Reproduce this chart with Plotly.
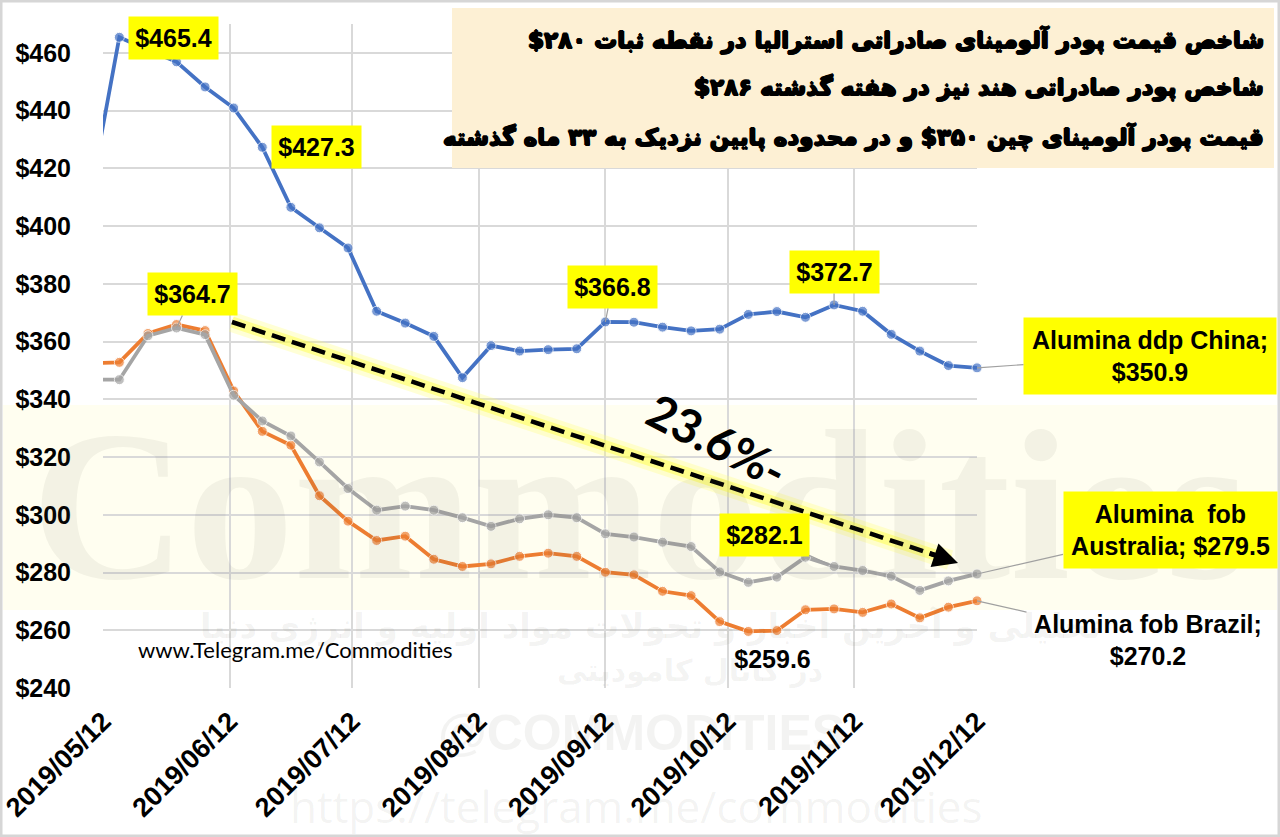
import pandas as pd
import plotly.graph_objects as go

# weekly assessments (Thursdays), first one sits just left of the axis start
dates = pd.date_range('2019-05-09', periods=32, freq='7D')

china = [411.7, 465.4, 461.0, 456.9, 448.2, 440.9, 427.3, 406.5, 399.4, 392.4,
         370.5, 366.4, 361.8, 347.5, 358.6, 356.7, 357.2, 357.5, 366.8, 366.7,
         365.0, 363.7, 364.3, 369.4, 370.4, 368.4, 372.7, 370.5, 362.5, 356.7,
         351.7, 350.9]
australia = [346.8, 346.8, 362.0, 364.7, 362.4, 341.4, 332.5, 327.3, 318.3, 309.1,
             301.6, 303.0, 301.6, 299.0, 296.0, 298.6, 300.0, 299.0, 293.4, 292.3,
             290.5, 289.0, 280.2, 276.6, 278.4, 285.3, 282.1, 280.7, 278.7, 273.8,
             277.1, 279.5]
brazil = [352.5, 352.8, 362.8, 365.9, 363.8, 342.9, 328.9, 324.1, 306.6, 297.8,
          291.1, 292.6, 284.6, 282.1, 283.0, 285.6, 286.7, 285.6, 280.1, 279.2,
          273.5, 272.0, 263.0, 259.6, 259.9, 267.1, 267.4, 266.2, 269.1, 264.3,
          268.0, 270.2]

tick_dates = ['2019-05-12', '2019-06-12', '2019-07-12', '2019-08-12',
              '2019-09-12', '2019-10-12', '2019-11-12', '2019-12-12']
tick_text = ['2019/05/12', '2019/06/12', '2019/07/12', '2019/08/12',
             '2019/09/12', '2019/10/12', '2019/11/12', '2019/12/12']

RLM = '\u200f'  # keeps the trailing "$" inside the right-to-left run
title_lines = [
    'شاخص قیمت پودر آلومینای صادراتی استرالیا در نقطه ثبات ۲۸۰$',
    'شاخص پودر صادراتی هند نیز در هفته گذشته ۲۸۶$',
    'قیمت پودر آلومینای چین ۳۵۰$ و در محدوده پایین نزدیک به ۳۳ ماه گذشته',
]

W, H = 1280, 837
L, R, T, B = 103, 977, 24, 688


def px(x):
    return (x - L) / (R - L)


def py(y):
    return (B - y) / (B - T)


BOLD = 'Liberation Sans, Arial, sans-serif'

fig = go.Figure()

sizes = [0] + [10] * (len(dates) - 1)   # first point is outside the axis range
for name, vals, col in [('Alumina fob Brazil', brazil, '#ED7D31'),
                        ('Alumina fob Australia', australia, '#A5A5A5'),
                        ('Alumina ddp China', china, '#4472C4')]:
    fig.add_trace(go.Scatter(x=dates, y=vals, name=name, mode='lines+markers',
                             line=dict(color=col, width=3.8),
                             marker=dict(color=col, size=sizes),
                             cliponaxis=False, showlegend=False))

shapes = []
# outer frame, pale band of the background, title box
shapes.append(dict(type='rect', xref='paper', yref='paper', layer='below',
                   x0=px(0), x1=px(W), y0=py(H), y1=py(0),
                   line=dict(color='#D6D6D6', width=5), fillcolor='white'))
shapes.append(dict(type='rect', xref='paper', yref='paper', layer='below',
                   x0=px(3), x1=px(W - 3), y0=py(610), y1=py(405),
                   line=dict(width=0), fillcolor='#FFFEF0'))
shapes.append(dict(type='rect', xref='paper', yref='paper', layer='above',
                   x0=px(452), x1=px(1274), y0=py(168), y1=py(8),
                   line=dict(width=0), fillcolor='#FDF0D4'))

# dashed trend arrow with yellow glow
ax0, ay0, ax1, ay1 = 232, 322, 950, 560
for w, c in [(20, 'rgba(255,255,120,0.30)'), (11, 'rgba(255,255,60,0.45)')]:
    shapes.append(dict(type='line', xref='paper', yref='paper', layer='above',
                       x0=px(ax0), y0=py(ay0), x1=px(ax1), y1=py(ay1),
                       line=dict(color=c, width=w)))
shapes.append(dict(type='line', xref='paper', yref='paper', layer='above',
                   x0=px(ax0), y0=py(ay0), x1=px(ax1 - 12), y1=py(ay1 - 4),
                   line=dict(color='black', width=4.5, dash='14px,7px')))

ann = []


def note(x, y, text, font, **kw):
    ann.append(dict(xref='paper', yref='paper', x=px(x), y=py(y), text=text,
                    showarrow=False, xanchor=kw.pop('xanchor', 'center'),
                    yanchor='middle', font=font, **kw))


# faint watermark texts
wm = 'rgba(90,90,70,0.07)'
note(640, 505, 'Commodities',
     dict(family='Liberation Serif, serif', size=215, color=wm, weight='bold'))
note(650, 626, 'تحلیلی و آخرین اخبار و تحولات مواد اولیه و انرژی دنیا',
     dict(family='DejaVu Sans', size=34, color=wm, weight='bold'))
note(690, 670, 'در کانال کامودیتی',
     dict(family='DejaVu Sans', size=30, color=wm, weight='bold'))
note(641, 733, '@COMMODITIES', dict(family=BOLD, size=50, color=wm, weight='bold'))
note(636, 806, 'https://telegram.me/commodities',
     dict(family='Open Sans, sans-serif', size=44, color=wm))

# title lines
heavy = ('0.9px 0 0 black, -0.9px 0 0 black, 0 0.8px 0 black, '
         '0 -0.6px 0 black, 0.6px 0.6px 0 black')
for txt, yc in zip(title_lines, [40, 88, 136]):
    note(1266, yc, RLM + txt + RLM,
         dict(family='DejaVu Sans, sans-serif', size=23, color='black',
              weight='bold', shadow=heavy),
         xanchor='right', align='right')

# value call-outs: (series, index, text, dx, dy, boxed, leader)
callouts = [
    (china, 1, '$465.4', 54, 1, True, False),
    (china, 6, '$427.3', 54, 0, True, False),
    (australia, 3, '$364.7', 16, -34, True, True),
    (china, 18, '$366.8', 7, -35, True, True),
    (china, 26, '$372.7', 0, -33, True, True),
    (australia, 26, '$282.1', -70, -31, True, True),
    (brazil, 23, '$259.6', 24, 28, False, False),
]
for vals, i, txt, dx, dy, boxed, leader in callouts:
    ann.append(dict(x=dates[i], y=vals[i], xref='x', yref='y', text=txt,
                    showarrow=True, ax=dx, ay=dy, arrowhead=0, arrowwidth=1.2,
                    arrowcolor='#A0A0A0' if leader else 'rgba(0,0,0,0)',
                    bgcolor='#FFFF00' if boxed else 'rgba(0,0,0,0)',
                    borderpad=4, width=81, height=34,
                    font=dict(family=BOLD, size=25, color='black', weight='bold')))

# series name call-outs at the last point
series_labels = [
    (china, 'Alumina ddp China;<br>$350.9', 173, -12, True, 246, 70),
    (australia, 'Alumina\u00a0 fob<br>Australia; $279.5', 193, -44, True, 207, 70),
    (brazil, 'Alumina fob Brazil;<br>$270.2', 171, 39, False, 236, 70),
]
for vals, txt, dx, dy, boxed, bw, bh in series_labels:
    ann.append(dict(x=dates[-1], y=vals[-1], xref='x', yref='y', text=txt,
                    showarrow=True, ax=dx, ay=dy, arrowhead=0, arrowwidth=1.2,
                    arrowcolor='#A0A0A0', align='center',
                    bgcolor='#FFFF00' if boxed else 'rgba(0,0,0,0)',
                    borderpad=3, width=bw, height=bh,
                    font=dict(family=BOLD, size=25, color='black', weight='bold')))

# percentage drop and arrow head
note(717, 440, '<b>23.6%-</b>', dict(family='Lato, sans-serif', size=47, color='black'),
     textangle=27)
ann.append(dict(xref='paper', yref='paper', x=px(ax1 + 8), y=py(ay1 + 3), text='',
                showarrow=True, ax=-30, ay=-10, arrowhead=2, arrowsize=1.1,
                arrowwidth=4.5, arrowcolor='black'))

note(295, 649, 'www.Telegram.me/Commodities',
     dict(family='Lato, sans-serif', size=22, color='black'))

fig.update_layout(
    width=W, height=H,
    margin=dict(l=L, r=W - R, t=T, b=H - B),
    paper_bgcolor='white', plot_bgcolor='rgba(0,0,0,0)',
    shapes=shapes, annotations=ann,
)
fig.update_xaxes(type='date', range=['2019-05-12', '2019-12-12'],
                 tickvals=tick_dates, ticktext=tick_text, tickangle=-45,
                 showgrid=True, gridcolor='#D9D9D9', gridwidth=1.5, automargin=False,
                 showline=False, zeroline=False, ticks='', ticklabelstandoff=11,
                 tickfont=dict(family=BOLD, size=27, color='black', weight='bold'))
fig.update_yaxes(range=[240, 470], tick0=240, dtick=20, tickprefix='$',
                 showgrid=True, gridcolor='#D9D9D9', gridwidth=1.5, automargin=False,
                 showline=False, zeroline=False, ticks='', ticklabelstandoff=31,
                 tickfont=dict(family=BOLD, size=25, color='black', weight='bold'))

fig.write_html("out.html", config={'displayModeBar': False},
               post_script="document.body.style.margin='0';")
